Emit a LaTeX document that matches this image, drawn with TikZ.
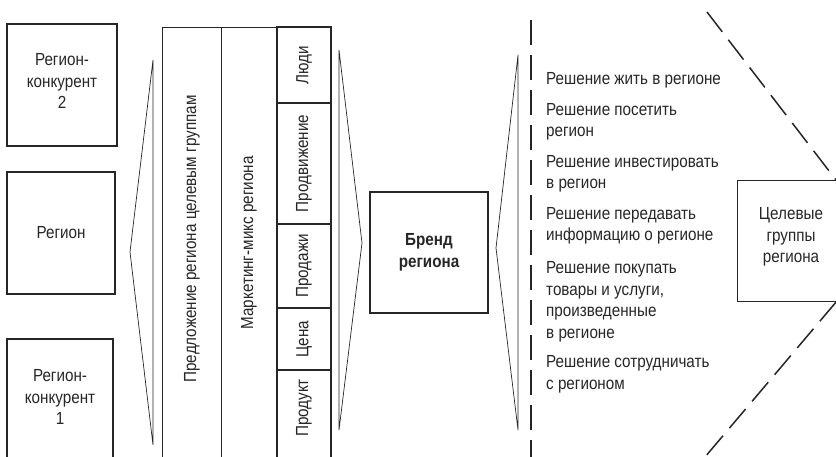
\documentclass[tikz,border=0pt]{standalone}
\usepackage{fontspec}
\setmainfont{Liberation Sans}[FakeStretch=0.87]
\usetikzlibrary{calc}

\begin{document}
\begin{tikzpicture}[x=1pt,y=-1pt,
  txt/.style={font=\fontsize{17.5}{21.5}\selectfont,text=black!85,inner sep=0pt},
  box/.style={draw=black!85,line width=1.1pt,inner sep=0pt},
  wedge/.style={draw=black!85,line width=0.7pt,line join=miter},
  dsh/.style={draw=black!85,line width=1.8pt,dash pattern=on 25pt off 10pt}]
\useasboundingbox (0,0) rectangle (836,457);
\node[box,minimum width=110pt,minimum height=122pt](rk2)at(62,85){};
\node[txt,align=center](trk2)at(62,81){Регион-\\конкурент\\2};
\node[box,minimum width=108pt,minimum height=122pt](reg)at(61,233){};
\node[txt](treg)at(61,233){Регион};
\node[box,minimum width=106pt,minimum height=122pt](rk1)at(60,400){};
\node[txt,align=center](trk1)at(60,397){Регион-\\конкурент\\1};
\draw[wedge] (153,60) -- (130,252) -- (153,445) -- cycle;
\node[box,minimum width=59pt,minimum height=445pt,anchor=north west](offer)at(162,27){};
\node[txt,rotate=90](toffer)at(192,239){Предложение региона целевым группам};
\node[box,minimum width=56pt,minimum height=445pt,anchor=north west](mix)at(221,27){};
\node[txt,rotate=90](tmix)at(249,243){Маркетинг-микс региона};
\foreach \a/\b/\c/\t [count=\i] in {27/103/65/Люди,103/224/163.5/Продвижение,224/308/266/Продажи,308/370/339/Цена,370/472/408/Продукт}
  {\draw[box] (277,\a) rectangle (331,\b);
   \node[txt,rotate=90](cell\i)at(304,\c){\t};}
\draw[wedge] (339,50) -- (362,243) -- (339,430) -- cycle;
\node[box,minimum width=118pt,minimum height=121pt](brand)at(429,252.5){};
\node[txt,align=center,font=\fontsize{17.5}{21.5}\selectfont\bfseries](tbrand)at(brand.center){Бренд\\региона};
\draw[wedge] (518,55) -- (496,248) -- (518,430) -- cycle;
\coordinate (vtop) at (531,20);
\coordinate (vbot) at (531,460);
\draw[dsh] (vtop) -- (vbot);
\foreach \y/\t [count=\i] in {85/{Решение жить в регионе},137/{Решение посетить\\регион},189/{Решение инвестировать\\в регион},241/{Решение передавать\\информацию о регионе},338/{Решение покупать\\товары и услуги,\\произведенные\\в регионе},389/{Решение сотрудничать\\с регионом}}
  \node[txt,align=left,anchor=base west](dec\i)at(546,\y){\t};
\node[box,minimum width=140pt,minimum height=121pt,anchor=north west](tg)at(737,180){};
\node[txt,align=center](ttg)at(791,237){Целевые\\группы\\региона};
\coordinate (dtop) at (707,12);
\coordinate (dbot) at (705,457);
\draw[dsh,line width=1.5pt] (dtop) -- (tg.north west -| 836,0);
\draw[dsh,line width=1.5pt] (tg.south west -| 836,0) -- (dbot);
\end{tikzpicture}
\end{document}
